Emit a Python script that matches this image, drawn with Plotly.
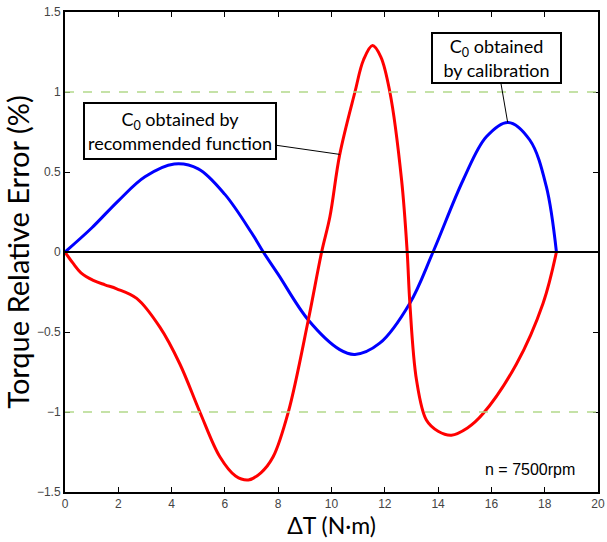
import plotly.graph_objects as go

# Data
blue_x = [0, 1, 2, 3, 4.1, 5, 6, 7, 7.44, 8, 9.13, 10.31, 10.88, 11.81, 12.94, 13.81, 14.94, 15.81, 16.63, 17.44,
          18.06, 18.44]
blue_y = [0, 0.15, 0.32, 0.47, 0.55, 0.52, 0.36, 0.12, 0, -0.14, -0.425, -0.61, -0.64, -0.57, -0.32, 0, 0.45, 0.72,
          0.81, 0.70, 0.41, 0]

red_x = [0, 0.3, 0.6, 1.06, 1.5, 1.94, 2.69, 3.56, 4.31, 5.06, 5.81, 6.4, 6.88, 7.35, 7.81, 8.38, 9.13, 9.63, 9.94,
         10.31, 10.88, 11.2, 11.54, 11.85, 12.19, 12.63, 12.84, 12.94, 13.19, 13.56, 14.0, 14.5, 15.1, 15.69, 16.94,
         17.94, 18.44]
red_y = [0, -0.07, -0.13, -0.177, -0.205, -0.23, -0.29, -0.47, -0.70, -1.0, -1.28, -1.40, -1.425, -1.38, -1.28,
         -1.0, -0.425, 0, 0.22, 0.61, 1.0, 1.2, 1.29, 1.22, 1.0, 0.45, 0, -0.32, -0.80, -1.05, -1.12, -1.145, -1.10,
         -1.01, -0.70, -0.32, 0]

x_ticks = [0, 2, 4, 6, 8, 10, 12, 14, 16, 18, 20]
y_ticks = [-1.5, -1, -0.5, 0, 0.5, 1, 1.5]
y_tick_text = ["\u22121.5", "\u22121", "\u22120.5", "0", "0.5", "1", "1.5"]
limit_levels = [1, -1]

label_font = "Lato, Open Sans, sans-serif"
tick_font = "Liberation Sans, Arial, sans-serif"

fig = go.Figure()

for lv in limit_levels:
    fig.add_hline(y=lv, line=dict(color="#b3d98a", width=1.5, dash="dash"))
fig.add_hline(y=0, line=dict(color="black", width=2))

fig.add_trace(go.Scatter(x=blue_x, y=blue_y, mode="lines",
                         line=dict(color="#0000ff", width=3, shape="spline", smoothing=1.0),
                         showlegend=False))
fig.add_trace(go.Scatter(x=red_x, y=red_y, mode="lines",
                         line=dict(color="#ff0000", width=3, shape="spline", smoothing=1.0),
                         showlegend=False))

fig.add_annotation(x=10.31, y=0.61, ax=-160, ay=-23, xref="x", yref="y",
                   text="C<sub>0</sub> obtained by<br>recommended function",
                   showarrow=True, arrowhead=0, arrowwidth=1, arrowcolor="black",
                   width=186, height=50,
                   font=dict(family=label_font, size=18, color="black"),
                   bordercolor="black", borderwidth=2, borderpad=2, bgcolor="white")
fig.add_annotation(x=16.61, y=0.81, ax=-11, ay=-64, xref="x", yref="y",
                   text="C<sub>0</sub> obtained<br>by calibration",
                   showarrow=True, arrowhead=0, arrowwidth=1, arrowcolor="black",
                   width=123, height=44,
                   font=dict(family=label_font, size=18, color="black"),
                   bordercolor="black", borderwidth=2, borderpad=2, bgcolor="white")
fig.add_annotation(x=17.45, y=-1.36, xref="x", yref="y", text="n = 7500rpm", showarrow=False,
                   font=dict(family=tick_font, size=16, color="black"))

fig.update_xaxes(range=[0, 20], tickvals=x_ticks, ticks="inside", ticklen=5, tickcolor="black",
                 showline=True, linecolor="black", linewidth=2, mirror="ticks", showgrid=False,
                 zeroline=False, automargin=False,
                 tickfont=dict(family=tick_font, size=12, color="#444"),
                 title=dict(text="\u0394T (N\u00b7m)", font=dict(family=label_font, size=23, color="black"),
                            standoff=0))
fig.update_yaxes(range=[-1.5, 1.5], tickvals=y_ticks, ticktext=y_tick_text, ticks="inside", ticklen=5,
                 tickcolor="black", showline=True, linecolor="black", linewidth=2, mirror="ticks",
                 showgrid=False, zeroline=False, automargin=False,
                 tickfont=dict(family=tick_font, size=12, color="#444"),
                 title=dict(text="Torque Relative Error (%)", font=dict(family=label_font, size=29, color="black"),
                            standoff=2))

fig.update_layout(width=607, height=542, margin=dict(l=65, r=9, t=12, b=50),
                  plot_bgcolor="white", paper_bgcolor="white")

# remove the default 8px page margin so the figure fills the window
fig.write_html("out.html", config={"displayModeBar": False},
               post_script="document.body.style.margin='0';document.body.style.overflow='hidden';")
